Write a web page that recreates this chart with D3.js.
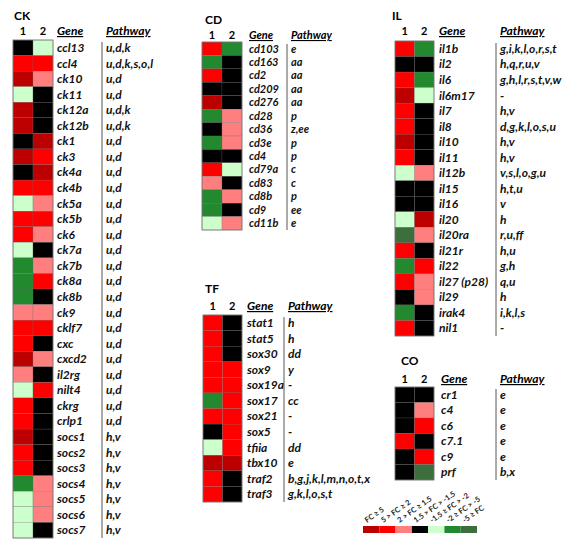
<!DOCTYPE html>
<html><head><meta charset="utf-8">
<script src="https://cdn.jsdelivr.net/npm/d3@7"></script>
<style>
html,body{margin:0;padding:0;background:#fff;}
svg text{font-family:Lato,"Open Sans",sans-serif;}
</style></head>
<body><svg id="c" width="566" height="540"></svg>
<script>
// ---- data ----
// fold-change category codes: 0 FC≥5, 1 5>FC≥2, 2 2>FC≥1.5, 3 1.5>FC>-1.5, 4 -1.5≥FC>-2, 5 -2≥FC>-5, 6 -5≥FC
const legendLabels = ["FC \u2265 5","5 > FC \u2265 2","2 > FC \u2265 1.5","1.5 > FC > -1.5","-1.5 \u2265 FC > -2","-2 \u2265 FC > -5","-5 \u2265 FC"];
const legendColors = ["#BC0000","#FF0000","#FF7F7F","#000000","#CCFFCC","#22892E","#3C6E3E"];
const columns = ["1","2"];

const ckGenes = ["ccl13","ccl4","ck10","ck11","ck12a","ck12b","ck1","ck3","ck4a","ck4b","ck5a","ck5b","ck6","ck7a","ck7b","ck8a","ck8b","ck9","cklf7","cxc","cxcd2","il2rg","nilt4","ckrg","crlp1","socs1","socs2","socs3","socs4","socs5","socs6","socs7"];
const ckCol1 = [3,1,0,4,0,0,3,0,3,1,4,1,1,4,5,5,5,2,1,1,0,2,4,1,1,0,1,1,5,4,4,4];
const ckCol2 = [4,1,2,3,3,3,0,1,0,1,2,1,2,3,2,1,3,2,1,3,2,3,1,3,3,3,3,3,2,2,2,3];
const ckPathways = ["u,d,k","u,d,k,s,o,l","u,d","u,d","u,d,k","u,d,k","u,d","u,d","u,d","u,d","u,d","u,d","u,d","u,d","u,d","u,d","u,d","u,d","u,d","u,d","u,d","u,d","u,d","u,d","u,d","h,v","h,v","h,v","h,v","h,v","h,v","h,v"];

const cdGenes = ["cd103","cd163","cd2","cd209","cd276","cd28","cd36","cd3e","cd4","cd79a","cd83","cd8b","cd9","cd11b"];
const cdCol1 = [1,5,1,3,0,5,3,5,3,1,2,5,5,4];
const cdCol2 = [5,3,3,3,3,2,2,2,3,4,3,2,3,2];
const cdPathways = ["e","aa","aa","aa","aa","p","z,ee","p","p","c","c","p","ee","e"];

const tfGenes = ["stat1","stat5","sox30","sox9","sox19a","sox17","sox21","sox5","tfiia","tbx10","traf2","traf3"];
const tfCol1 = [1,1,1,1,1,5,1,3,4,0,1,1];
const tfCol2 = [3,3,3,1,1,1,1,1,1,0,3,3];
const tfPathways = ["h","h","dd","y","-","cc","-","-","dd","e","b,g,j,k,l,m,n,o,t,x","g,k,l,o,s,t"];

const ilGenes = ["il1b","il2","il6","il6m17","il7","il8","il10","il11","il12b","il15","il16","il20","il20ra","il21r","il22","il27 (p28)","il29","irak4","nil1"];
const ilCol1 = [1,3,1,0,1,1,0,1,4,3,3,4,6,1,5,1,3,5,1];
const ilCol2 = [5,3,5,4,3,3,3,3,2,3,3,0,2,3,1,2,2,3,3];
const ilPathways = ["g,i,k,l,o,r,s,t","h,q,r,u,v","g,h,l,r,s,t,v,w","-","h,v","d,g,k,l,o,s,u","h,v","h,v","v,s,l,o,g,u","h,t,u","v","h","r,u,ff","h,u","g,h","q,u","h","i,k,l,s","-"];

const coGenes = ["cr1","c4","c6","c7.1","c9","prf"];
const coCol1 = [3,3,3,1,3,3];
const coCol2 = [3,2,1,3,1,6];
const coPathways = ["e","e","e","e","e","b,x"];

// ---- drawing ----
const svg = d3.select("#c");
const color = d3.scaleOrdinal().domain(d3.range(7)).range(legendColors);

function panel(title, genes, col1, col2, paths, L) {
  const fs = L.fs || 12;
  const g = svg.append("g");
  const y = d3.scaleBand().domain(genes).range([L.top, L.bottom]);
  const x = d3.scaleBand().domain(columns).range([L.x0, L.x1]);
  g.append("text").attr("x", L.tx).attr("y", L.ty).text(title)
    .attr("font-size", 12).attr("font-weight", "bold");
  g.selectAll(".ch").data(columns).join("text")
    .attr("x", d => x(d) + x.bandwidth()/2).attr("y", L.hy)
    .attr("text-anchor", "middle").attr("font-size", 11).attr("font-weight", "bold").text(d => d);
  [["Gene", L.gx], ["Pathway", L.px]].forEach(([t, xx]) => {
    g.append("text").attr("x", xx).attr("y", L.hy).text(t)
      .attr("font-size", fs).attr("font-weight", "bold").attr("font-style", "italic")
      .attr("text-decoration", "underline");
  });
  const cells = [];
  genes.forEach((gn, i) => { cells.push({g: gn, c: "1", v: col1[i]}); cells.push({g: gn, c: "2", v: col2[i]}); });
  g.selectAll(".cell").data(cells).join("rect")
    .attr("x", d => x(d.c)).attr("y", d => y(d.g))
    .attr("width", x.bandwidth()).attr("height", y.bandwidth())
    .attr("fill", d => color(d.v)).attr("stroke", "#6a6a6a").attr("stroke-width", 0.25);
  g.append("rect").attr("x", L.x0).attr("y", L.top).attr("width", L.x1 - L.x0).attr("height", L.bottom - L.top)
    .attr("fill", "none").attr("stroke", "#777").attr("stroke-width", 0.8);
  g.selectAll(".gl").data(genes).join("text")
    .attr("x", L.gx).attr("y", d => y(d) + y.bandwidth()/2 + fs * 0.35)
    .attr("font-size", fs).attr("font-style", "italic").attr("font-weight", "bold").attr("fill", "#111").text(d => d);
  g.selectAll(".pl").data(genes).join("text")
    .attr("x", L.px).attr("y", d => y(d) + y.bandwidth()/2 + fs * 0.35)
    .attr("font-size", fs).attr("font-style", "italic").attr("font-weight", "bold").attr("fill", "#111")
    .text((d, i) => paths[i]);
  g.append("line").attr("x1", L.px - 4).attr("x2", L.px - 4).attr("y1", L.top + 2).attr("y2", L.bottom)
    .attr("stroke", "#444").attr("stroke-width", 0.9);
}

panel("CK", ckGenes, ckCol1, ckCol2, ckPathways,
  {tx: 14, ty: 20, hy: 35, x0: 13, x1: 53, top: 40, bottom: 538, gx: 57, px: 106});
panel("CD", cdGenes, cdCol1, cdCol2, cdPathways,
  {tx: 205, ty: 24, hy: 39, x0: 202, x1: 242, top: 42, bottom: 230, gx: 249, px: 291, fs: 11});
panel("TF", tfGenes, tfCol1, tfCol2, tfPathways,
  {tx: 205, ty: 293, hy: 310, x0: 203, x1: 242, top: 315, bottom: 502, gx: 247, px: 288});
panel("IL", ilGenes, ilCol1, ilCol2, ilPathways,
  {tx: 392, ty: 20, hy: 35, x0: 395, x1: 434, top: 41, bottom: 336, gx: 439, px: 500});
panel("CO", coGenes, coCol1, coCol2, coPathways,
  {tx: 401, ty: 365, hy: 383, x0: 395, x1: 434, top: 387, bottom: 480, gx: 441, px: 500});

// legend
const lx = d3.scaleBand().domain(d3.range(7)).range([363, 477]);
const lg = svg.append("g");
lg.selectAll("rect").data(d3.range(7)).join("rect")
  .attr("x", d => lx(d)).attr("y", 526).attr("width", lx.bandwidth()).attr("height", 7)
  .attr("fill", d => legendColors[d]);
lg.selectAll("text").data(d3.range(7)).join("text")
  .attr("transform", d => `translate(${lx(d) + 4},${523}) rotate(-35)`)
  .attr("font-size", 7.5).attr("font-weight", "bold").attr("fill", "#222")
  .text(d => legendLabels[d]);
</script></body></html>
